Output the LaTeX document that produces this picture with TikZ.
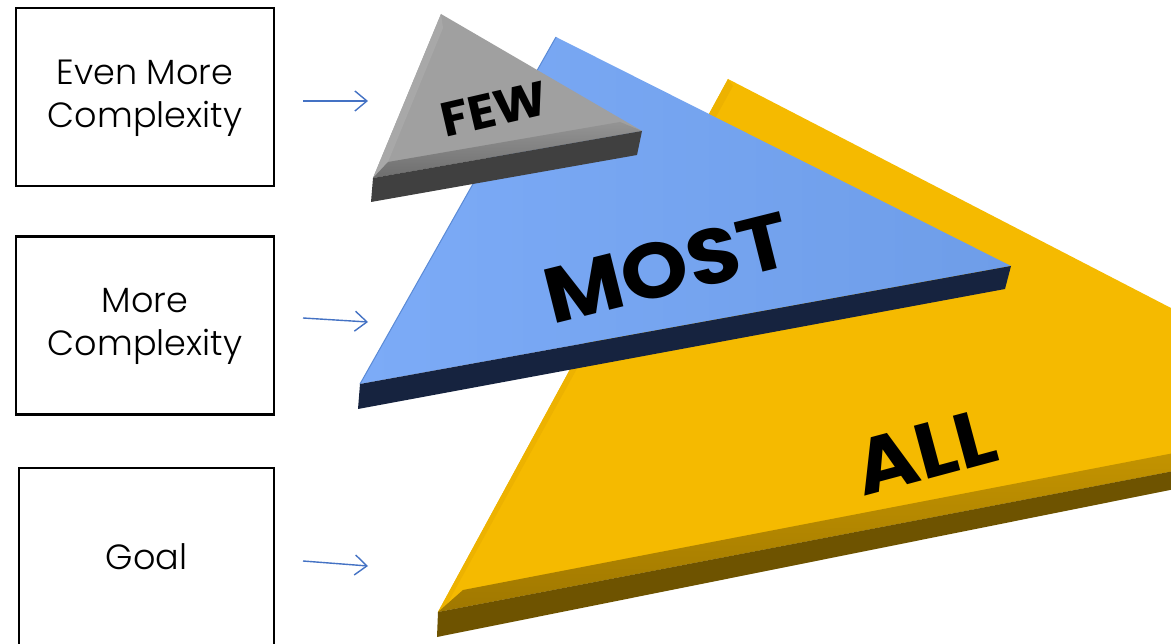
\documentclass[tikz,border=0pt]{standalone}
\usepackage{fontspec}
\setmainfont{Poppins}
\newfontfamily\boxfont{Poppins Light}
\usetikzlibrary{arrows.meta}
\definecolor{arrowblue}{HTML}{4472C4}
\definecolor{grayface}{HTML}{A0A0A0}
\definecolor{grayedge}{HTML}{A8A8A8}
\definecolor{graybevtop}{HTML}{949494}
\definecolor{graybevbot}{HTML}{6E6E6E}
\definecolor{grayside}{HTML}{404040}
\definecolor{blueleft}{HTML}{7CABF7}
\definecolor{blueright}{HTML}{6E9DE8}
\definecolor{blueline}{HTML}{5A8AD6}
\definecolor{blueside}{HTML}{16233F}
\definecolor{goldface}{HTML}{F5BA00}
\definecolor{goldedge}{HTML}{EDB200}
\definecolor{goldbevtop}{HTML}{C49400}
\definecolor{goldbevbot}{HTML}{A07800}
\definecolor{goldside}{HTML}{6E5300}
\newcommand{\twolines}[2]{\raisebox{-5pt}{\setlength{\tabcolsep}{0pt}\begin{tabular}{c}#1\\[-1pt]#2\end{tabular}}}
\begin{document}
\begin{tikzpicture}[x=1pt,y=-1pt,
  box/.style={draw=black, line width=2.2pt, minimum width=258pt, minimum height=178pt,
    align=center, inner sep=0pt, font=\boxfont\fontsize{35}{44}\selectfont},
  pointer/.style={draw=arrowblue, line width=1.4pt, -{Straight Barb[length=12pt,width=20pt,line width=1.4pt]}},
  biglabel/.style={text=black, inner sep=0pt}
]
\useasboundingbox (0,0) rectangle (1171,644);
\clip (0,0) rectangle (1171,644);
\fill[white] (0,0) rectangle (1171,644);

% ---------- ALL (yellow) ----------
\coordinate (yT) at (728,79);
\coordinate (yL) at (438,612);
\fill[goldface] (yT) -- (1200,323) -- (1200,466) -- (yL) -- cycle;
\fill[goldedge] (yT) -- (yL) -- (446,606) -- (733,86) -- cycle;
\shade[top color=goldbevtop, bottom color=goldbevbot] (yL) -- (463,590) -- (1200,448) -- (1200,466) -- cycle;
\fill[goldside] (yL) -- (1200,466) -- (1200,484) -- (437,637) -- cycle;
\node[biglabel, rotate=15, xscale=1.08, font=\bfseries\fontsize{78}{78}\selectfont] (all) at (925,452) {ALL};

% ---------- MOST (blue) ----------
\coordinate (bT) at (556,37);
\coordinate (bR) at (1011,266);
\coordinate (bL) at (360,384);
\shade[left color=blueleft, right color=blueright] (bT) -- (bR) -- (bL) -- cycle;
\draw[blueline, line width=1pt] (bT) -- (bL);
\fill[blueside] (bL) -- (bR) -- (1005,289) -- (358,409) -- cycle;
\node[biglabel, rotate=14, xscale=1.1, font=\bfseries\fontsize{78}{78}\selectfont] (most) at (667,268) {MOST};

% ---------- FEW (gray) ----------
\coordinate (gT) at (441,14);
\coordinate (gR) at (642,131);
\coordinate (gL) at (373,178);
\fill[grayface] (gT) -- (gR) -- (gL) -- cycle;
\fill[grayedge] (gT) -- (gL) -- (388,162) -- (443,28) -- cycle;
\shade[top color=graybevtop, bottom color=graybevbot] (gL) -- (388,162) -- (620,122) -- (gR) -- cycle;
\fill[grayside] (gL) -- (gR) -- (637,155) -- (371,202) -- cycle;
\node[biglabel, rotate=13, xscale=1.05, font=\bfseries\fontsize{48}{48}\selectfont] (few) at (494,109) {FEW};

% ---------- boxes ----------
\node[box] (b1) at (145,97) {\twolines{Even More}{Complexity}};
\node[box] (b2) at (145,325.5) {\twolines{More}{Complexity}};
\node[box, minimum width=255pt] (b3) at (146.5,557) {Goal};

% ---------- arrows ----------
\coordinate (a1s) at (303,101);
\coordinate (a1e) at (368,101);
\coordinate (a2s) at (303,318);
\coordinate (a2e) at (368,322);
\coordinate (a3s) at (303,561);
\coordinate (a3e) at (368,566);
\draw[pointer] (a1s) -- (a1e);
\draw[pointer] (a2s) -- (a2e);
\draw[pointer] (a3s) -- (a3e);
\end{tikzpicture}
\end{document}
